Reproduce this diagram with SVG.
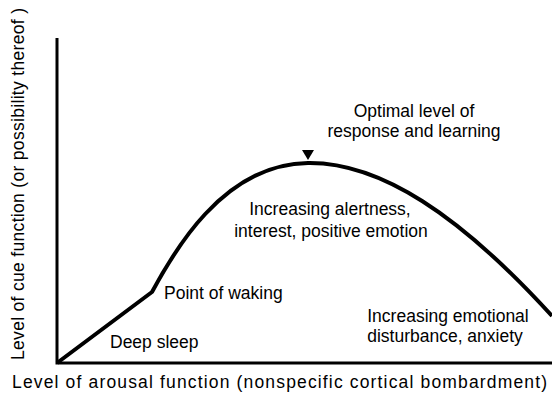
<svg xmlns="http://www.w3.org/2000/svg" width="552" height="393" viewBox="0 0 552 393">
<style>
text{font-family:"Liberation Sans",Arial,sans-serif;font-size:17.5px;fill:#000}
.ax{stroke:#000;stroke-width:3;fill:none}
.cv{stroke:#000;stroke-width:4;fill:none;stroke-linejoin:round}
</style>
<rect width="552" height="393" fill="#fff"/>
<g id="connectors">
<path class="ax" d="M57,38 V363 H552"/>
<path class="cv" d="M57,363 L152,292 C172,255 222,164 308,163 C380,162 460,215 552,316"/>
</g>
<g id="marker-optimal"><polygon points="302,150 314,150 308,160" fill="#000"/></g>
<g id="label-optimal"><text x="414" y="117" text-anchor="middle">Optimal level of</text><text x="414" y="137" text-anchor="middle">response and learning</text></g>
<g id="label-alert"><text x="330" y="215" text-anchor="middle">Increasing alertness,</text><text x="331" y="237" text-anchor="middle">interest, positive emotion</text></g>
<g id="label-waking"><text x="164" y="299">Point of waking</text></g>
<g id="label-sleep"><text x="110" y="348">Deep sleep</text></g>
<g id="label-anxiety"><text x="448" y="322" text-anchor="middle">Increasing emotional</text><text x="445" y="342" text-anchor="middle">disturbance, anxiety</text></g>
<g id="x-label"><text x="12" y="388" textLength="535">Level of arousal function (nonspecific cortical bombardment)</text></g>
<g id="y-label"><text transform="translate(24,184) rotate(-90)" text-anchor="middle" textLength="352">Level of cue function (or possibility thereof )</text></g>
</svg>
